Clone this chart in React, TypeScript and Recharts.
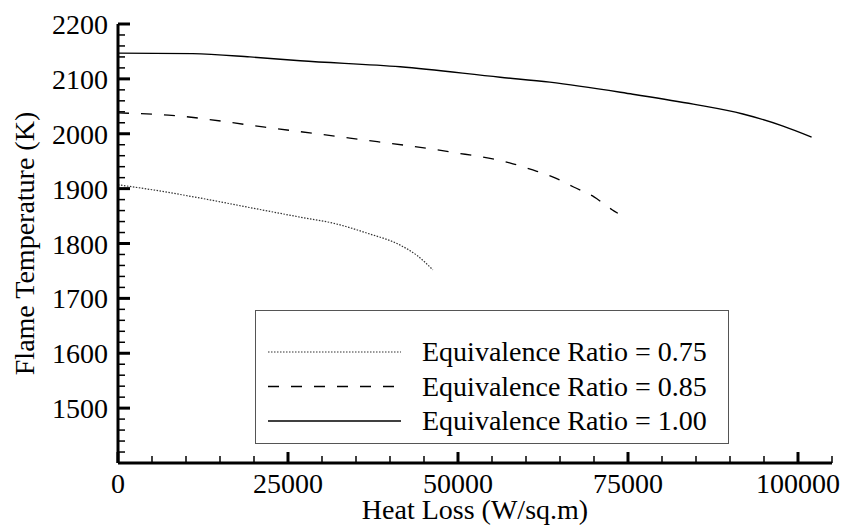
import { LineChart, Line, XAxis, YAxis } from "recharts";

// Equivalence Ratio = 0.75
const heatLoss075 = [0, 5000, 12000, 20000, 26800, 32000, 36600, 41500, 44000, 46300];
const temp075 = [1907, 1898, 1883, 1864, 1848, 1836, 1819, 1797, 1778, 1752];

// Equivalence Ratio = 0.85
const heatLoss085 = [0, 7400, 21600, 34100, 48800, 57600, 61000, 64000, 67000, 70000, 72600, 73500];
const temp085 = [2038, 2034, 2012, 1992, 1967, 1947, 1934, 1921, 1903, 1885, 1862, 1855];

// Equivalence Ratio = 1.00
const heatLoss100 = [0, 11000, 19400, 26800, 41500, 56200, 63500, 75700, 84600, 91900, 97800, 102000];
const temp100 = [2147, 2146, 2140, 2133, 2122, 2103, 2094, 2072, 2054, 2036, 2014, 1994];

const xTicks = [
  0, 5000, 10000, 15000, 20000, 25000, 30000, 35000, 40000, 45000, 50000, 55000, 60000, 65000,
  70000, 75000, 80000, 85000, 90000, 95000, 100000, 105000,
];
const yTicks = [
  1400, 1420, 1440, 1460, 1480, 1500, 1520, 1540, 1560, 1580, 1600, 1620, 1640, 1660, 1680, 1700,
  1720, 1740, 1760, 1780, 1800, 1820, 1840, 1860, 1880, 1900, 1920, 1940, 1960, 1980, 2000, 2020,
  2040, 2060, 2080, 2100, 2120, 2140, 2160, 2180, 2200,
];

const series = [
  { label: "Equivalence Ratio = 0.75", xs: heatLoss075, ys: temp075, dash: "1.5 1.5", color: "#333", width: 1.2 },
  { label: "Equivalence Ratio = 0.85", xs: heatLoss085, ys: temp085, dash: "11 12", color: "#000", width: 1.3 },
  { label: "Equivalence Ratio = 1.00", xs: heatLoss100, ys: temp100, dash: undefined, color: "#000", width: 1.4 },
];

const FONT = "'Liberation Serif', 'Times New Roman', serif";

function YTick(props: any) {
  const { x, y, payload } = props;
  const v = payload.value;
  if (v === 1400) return null;
  const major = v % 100 === 0;
  return (
    <g>
      <line x1={x} x2={x + (major ? 12 : 7)} y1={y} y2={y} stroke="#000" strokeWidth={major ? 3 : 1.5} />
      {major && (
        <text x={x - 10} y={y} dy="0.36em" textAnchor="end" fontFamily={FONT} fontSize={28} fill="#000">
          {v}
        </text>
      )}
    </g>
  );
}

function XTick(props: any) {
  const { x, y, payload } = props;
  const v = payload.value;
  const major = v % 25000 === 0;
  return (
    <g>
      <line x1={x} x2={x} y1={y} y2={y - (major ? 11 : 7)} stroke="#000" strokeWidth={major ? 3 : 1.5} />
      {major && (
        <text x={x} y={y + 30} textAnchor="middle" fontFamily={FONT} fontSize={28} fill="#000">
          {v}
        </text>
      )}
    </g>
  );
}

function ChartLegend() {
  return (
    <div
      style={{
        position: "absolute",
        left: 255,
        top: 310,
        width: 472,
        height: 132,
        border: "1.5px solid #555",
        background: "#fff",
      }}
    >
      <svg width={472} height={132}>
        {series.map((s, i) => {
          const cy = 41 + i * 34.5;
          return (
            <g key={s.label}>
              <line x1={12} x2={145} y1={cy} y2={cy} stroke={s.color} strokeWidth={s.width} strokeDasharray={s.dash} />
              <text x={166} y={cy + 9} fontFamily={FONT} fontSize={28} fill="#000">
                {s.label}
              </text>
            </g>
          );
        })}
      </svg>
    </div>
  );
}

export default function App() {
  return (
    <div style={{ position: "absolute", left: 0, top: 0, width: 844, height: 527, background: "#fff" }}>
      <LineChart width={844} height={527} margin={{ top: 24, right: 12, bottom: 0, left: 0 }}>
        <XAxis
          type="number"
          dataKey="x"
          domain={[0, 105000]}
          ticks={xTicks}
          interval={0}
          allowDataOverflow
          height={64}
          tickSize={0}
          tickMargin={0}
          tickLine={false}
          axisLine={{ stroke: "#000", strokeWidth: 3 }}
          tick={<XTick />}
          label={{
            content: (p: any) => {
              const vb = p.viewBox;
              return (
                <text x={vb.x + vb.width / 2} y={vb.y + 56} textAnchor="middle" fontFamily={FONT} fontSize={28} fill="#000">
                  Heat Loss (W/sq.m)
                </text>
              );
            },
          }}
        />
        <YAxis
          type="number"
          dataKey="y"
          domain={[1400, 2200]}
          ticks={yTicks}
          interval={0}
          allowDataOverflow
          width={118}
          tickSize={0}
          tickMargin={0}
          tickLine={false}
          axisLine={{ stroke: "#000", strokeWidth: 3 }}
          tick={<YTick />}
          label={{
            content: (p: any) => {
              const vb = p.viewBox;
              const cx = vb.x + 34;
              const cy = vb.y + vb.height / 2;
              return (
                <text
                  x={cx}
                  y={cy}
                  transform={`rotate(-90 ${cx} ${cy})`}
                  textAnchor="middle"
                  fontFamily={FONT}
                  fontSize={28}
                  fill="#000"
                >
                  Flame Temperature (K)
                </text>
              );
            },
          }}
        />
        {series.map((s) => (
          <Line
            key={s.label}
            data={s.xs.map((x, i) => ({ x, y: s.ys[i] }))}
            dataKey="y"
            type="monotone"
            stroke={s.color}
            strokeWidth={s.width}
            strokeDasharray={s.dash}
            dot={false}
            activeDot={false}
            isAnimationActive={false}
          />
        ))}
      </LineChart>
      <ChartLegend />
    </div>
  );
}
